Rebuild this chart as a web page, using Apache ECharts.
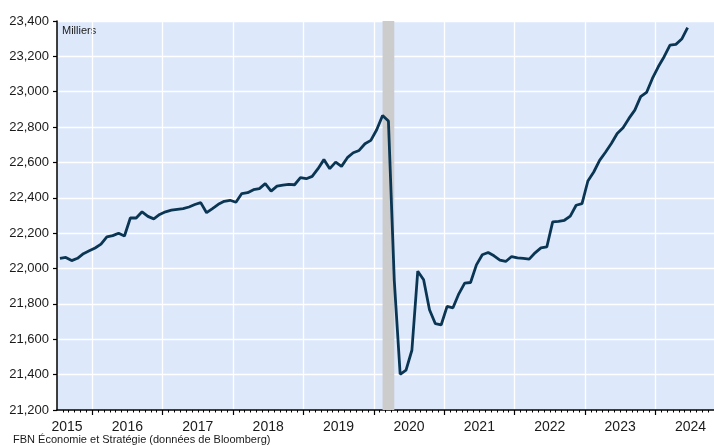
<!DOCTYPE html>
<html>
<head>
<meta charset="utf-8">
<script src="https://cdn.jsdelivr.net/npm/echarts@6.0.0/dist/echarts.min.js"></script>
<style>
	html, body { margin: 0; padding: 0; background: #ffffff; }
	#main { width: 714px; height: 446px; }
</style>
</head>
<body>
<div id="main"></div>
<script>
// série mensuelle, milliers (juil. 2015 -> juin 2024)
var startYear = 2015;
var startMonth = 7;
var values2015 = [22058, 22063, 22045, 22058, 22084, 22100];
var values2016 = [22116, 22138, 22179, 22186, 22200, 22184, 22286, 22286, 22321, 22295, 22281, 22306];
var values2017 = [22321, 22330, 22335, 22339, 22348, 22362, 22373, 22316, 22339, 22363, 22380, 22386];
var values2018 = [22375, 22424, 22429, 22446, 22452, 22480, 22438, 22466, 22472, 22476, 22474, 22514];
var values2019 = [22508, 22521, 22565, 22616, 22565, 22602, 22578, 22627, 22655, 22668, 22706, 22725];
var values2020 = [22785, 22866, 22834, 21930, 21402, 21425, 21538, 21985, 21937, 21767, 21688, 21682];
var values2021 = [21786, 21778, 21857, 21918, 21921, 22021, 22078, 22091, 22072, 22048, 22040, 22068];
var values2022 = [22060, 22057, 22053, 22089, 22117, 22122, 22264, 22267, 22273, 22296, 22358, 22367];
var values2023 = [22495, 22546, 22612, 22658, 22707, 22764, 22796, 22849, 22896, 22972, 22996, 23075];
var values2024 = [23141, 23198, 23264, 23268, 23298, 23362];
var yearLabels = ['2015', '2016', '2017', '2018', '2019', '2020', '2021', '2022', '2023', '2024'];
var recession = [[2020, 2], [2020, 4]];
var axisEnd = [2024, 11];

var employment = [].concat(values2015, values2016, values2017, values2018, values2019,
	values2020, values2021, values2022, values2023, values2024);

// position en mois depuis janvier 2015 (milieu du mois)
function monthPos(year, month) {
	return (year - 2015) * 12 + (month - 1) + 0.5;
}

var xMin = monthPos(startYear, startMonth) - 0.5;
var xMax = monthPos(axisEnd[0], axisEnd[1]) - 0.5;

var seriesData = [];
for (var i = 0; i < employment.length; i++) {
	var m = startMonth - 1 + i;
	seriesData.push([monthPos(startYear + Math.floor(m / 12), m % 12 + 1), employment[i]]);
}

var yearTicks = [];
var monthTicks = [];
var labelPos = [];
for (var k = 0; k < yearLabels.length; k++) {
	var yb = (parseInt(yearLabels[k]) - 2015) * 12;
	if (yb > xMin) yearTicks.push(yb);
	labelPos.push(Math.max(yb + 6, xMin + 1.7));
}
for (var t = Math.ceil(xMin) + 1; t < xMax; t++) monthTicks.push(t);

var textColor = '#1a1a1a';
var myChart = echarts.init(document.getElementById('main'));
var option = {
	animation: false,
	backgroundColor: '#ffffff',
	grid: {
		left: 57,
		right: 0,
		top: 21,
		bottom: 36,
		show: true,
		backgroundColor: '#dde9fb',
		borderWidth: 0
	},
	xAxis: [
		{
			type: 'value',
			position: 'bottom',
			min: xMin,
			max: xMax,
			axisLine: { show: true, lineStyle: { color: '#000', width: 1.5 } },
			axisTick: { show: true, length: 5, customValues: yearTicks, lineStyle: { color: '#000', width: 1.2 } },
			splitLine: { show: true, lineStyle: { color: '#ffffff', width: 1.3 } },
			axisLabel: {
				show: true,
				customValues: labelPos,
				margin: 10,
				fontFamily: 'Liberation Sans, Arial, sans-serif',
				fontSize: 14,
				color: textColor,
				formatter: function (v) {
					for (var j = 0; j < labelPos.length; j++) {
						if (Math.abs(labelPos[j] - v) < 0.01) return yearLabels[j];
					}
					return '';
				}
			}
		},
		{
			type: 'value',
			position: 'bottom',
			min: xMin,
			max: xMax,
			axisLine: { show: false },
			axisTick: { show: true, length: 2.5, customValues: monthTicks, lineStyle: { color: '#000', width: 1 } },
			splitLine: { show: false },
			axisLabel: { show: false }
		}
	],
	yAxis: {
		type: 'value',
		min: 21200,
		max: 23400,
		interval: 200,
		axisLine: { show: true, lineStyle: { color: '#000', width: 1.5 } },
		axisTick: { show: true, length: 4, lineStyle: { color: '#000', width: 1.2 } },
		splitLine: { show: true, lineStyle: { color: '#ffffff', width: 1.3 } },
		axisLabel: {
			margin: 8,
			fontFamily: 'Liberation Sans, Arial, sans-serif',
			fontSize: 13,
			color: textColor,
			formatter: function (v) {
				return v.toLocaleString('en-US');
			}
		}
	},
	graphic: [
		{
			type: 'text',
			left: 62,
			top: 25,
			style: { text: 'Milliers', fontFamily: 'Liberation Sans, Arial, sans-serif', fontSize: 11, fill: textColor }
		},
		{
			type: 'text',
			left: 13,
			top: 434,
			style: { text: 'FBN Économie et Stratégie (données de Bloomberg)', fontFamily: 'Liberation Sans, Arial, sans-serif', fontSize: 11, fill: textColor }
		}
	],
	series: [
		{
			name: 'Milliers',
			type: 'line',
			xAxisIndex: 0,
			data: seriesData,
			showSymbol: false,
			symbol: 'none',
			lineStyle: { color: '#0a3654', width: 2.8 },
			markArea: {
				silent: true,
				itemStyle: { color: '#cccccc' },
				data: [[
					{ xAxis: monthPos(recession[0][0], recession[0][1]) },
					{ xAxis: monthPos(recession[1][0], recession[1][1]) }
				]]
			},
			z: 3
		}
	]
};
myChart.setOption(option, true);
</script>
</body>
</html>
